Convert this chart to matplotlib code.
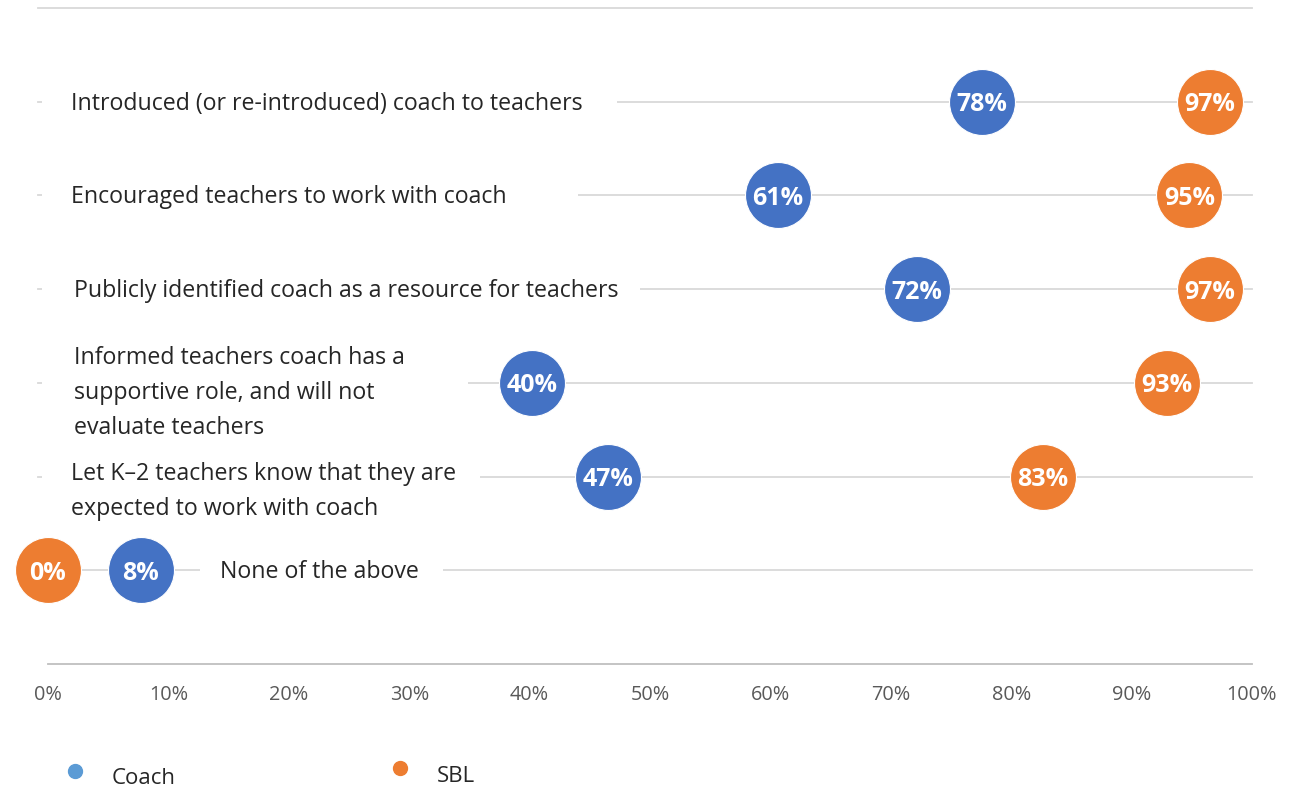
import matplotlib.pyplot as plt
from matplotlib.lines import Line2D
from matplotlib.patches import Rectangle

plt.rcParams['font.family'] = ['Open Sans', 'DejaVu Sans']

# data, top to bottom
categories = [
    "Introduced (or re-introduced) coach to teachers",
    "Encouraged teachers to work with coach",
    "Publicly identified coach as a resource for teachers",
    "Informed teachers coach has a\nsupportive role, and will not\nevaluate teachers",
    "Let K\u20132 teachers know that they are\nexpected to work with coach",
    "None of the above",
]
coach = [77.6, 60.6, 72.2, 40.2, 46.5, 7.7]
sbl = [96.5, 94.8, 96.5, 92.9, 82.6, 0.0]
coach_labels = ["78%", "61%", "72%", "40%", "47%", "8%"]
sbl_labels = ["97%", "95%", "97%", "93%", "83%", "0%"]
ticks = [0, 10, 20, 30, 40, 50, 60, 70, 80, 90, 100]

# label layout (x start of text, white gap behind text, vertical nudge in px)
label_x = [1.9, 1.9, 2.2, 2.2, 1.9, 14.3]
gap = [(-0.5, 47.3), (-0.5, 44.0), (-0.5, 49.2), (-0.5, 34.9), (-0.5, 35.9), (12.6, 32.8)]
nudge = [-2, -2, -2, -10, -15, -2]

blue = "#4472C4"
orange = "#ED7D31"
grid_c = "#D9D9D9"

fig = plt.figure(figsize=(12.93, 7.92), dpi=100)
ax = fig.add_axes([48 / 1293, 1 - 664 / 792, 1204 / 1293, 656 / 792])
ax.set_xlim(0, 100)
ax.set_ylim(0, 7)

n = len(categories)
ys = [n - i for i in range(n)]

# gridlines (incl. top)
for y in ys + [7]:
    ax.plot([-0.8, 100], [y, y], color=grid_c, lw=1.3, zorder=1, clip_on=False)

for i, y in enumerate(ys):
    g0, g1 = gap[i]
    ax.add_patch(Rectangle((g0, y - 0.05), g1 - g0, 0.1, facecolor="white",
                           edgecolor="none", zorder=2, clip_on=False))
    ax.annotate(categories[i], (label_x[i], y), xytext=(0, nudge[i]),
                textcoords="offset pixels", ha="left", va="center",
                fontsize=16.7, color="#262626", linespacing=1.6, zorder=3)

ms = 47.5
ax.plot(coach, ys, "o", ms=ms, color=blue, mec="white", mew=0.8, zorder=4, clip_on=False)
ax.plot(sbl, ys, "o", ms=ms, color=orange, mec="white", mew=0.8, zorder=4, clip_on=False)
for x, y, t in zip(coach, ys, coach_labels):
    ax.text(x, y, t, ha="center", va="center_baseline", color="white", fontsize=18,
            fontweight="bold", zorder=5)
for x, y, t in zip(sbl, ys, sbl_labels):
    ax.text(x, y, t, ha="center", va="center_baseline", color="white", fontsize=18,
            fontweight="bold", zorder=5)

for s in ["top", "right", "left"]:
    ax.spines[s].set_visible(False)
ax.spines["bottom"].set_color("#BFBFBF")
ax.spines["bottom"].set_linewidth(1.3)
ax.set_yticks([])
ax.set_xticks(ticks)
ax.set_xticklabels([f"{t}%" for t in ticks])
ax.tick_params(axis="x", length=0, pad=15, labelsize=14.3, labelcolor="#595959")

# legend
fig.add_artist(Line2D([75 / 1293], [1 - 771 / 792], marker="o", ms=10,
                      color="#5B9BD5", transform=fig.transFigure))
fig.text(112 / 1293, 1 - 779 / 792, "Coach", ha="left", va="center",
         fontsize=16, color="#262626")
fig.add_artist(Line2D([400 / 1293], [1 - 768 / 792], marker="o", ms=10,
                      color=orange, transform=fig.transFigure))
fig.text(437 / 1293, 1 - 777 / 792, "SBL", ha="left", va="center",
         fontsize=16, color="#262626")

fig.savefig("out.png", dpi=100)
